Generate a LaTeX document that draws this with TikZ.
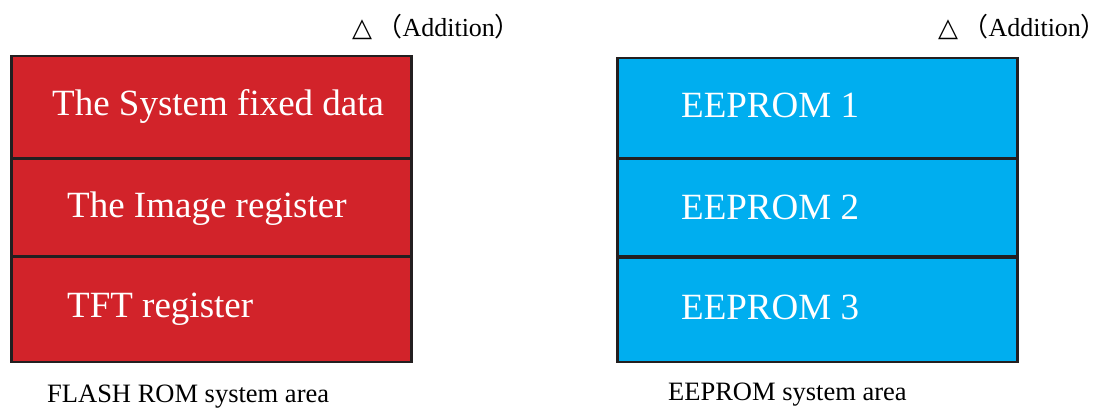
\documentclass[tikz,border=0pt]{standalone}
\usepackage{fontspec}
\setmainfont{Liberation Serif}
\newfontfamily\cjkfont{Noto Sans CJK SC}
\newfontfamily\symfont{DejaVu Sans}
\usepackage{xcolor}
\usetikzlibrary{positioning, calc}
\definecolor{flashred}{HTML}{D2232A}
\definecolor{eepblue}{HTML}{00AEEF}
\definecolor{edgegray}{HTML}{231F20}
\tikzset{
  membox/.style={
    draw=edgegray, line width=2.5pt, minimum width=400pt,
    inner sep=0pt, anchor=north west
  },
  memtext/.style={
    anchor=west, text=white, inner sep=0pt,
    font=\fontsize{37}{44}\selectfont
  },
  arealabel/.style={
    anchor=west, inner sep=0pt, font=\fontsize{26.5}{30}\selectfont
  },
  addlabel/.style={
    anchor=west, inner sep=0pt, font=\fontsize{26}{30}\selectfont
  },
}
\newcommand{\addmark}{{\symfont\char"25B3}\,{\cjkfont （}Addition\makebox[0.6em][l]{\cjkfont ）}}

\begin{document}
\begin{tikzpicture}[x=1pt, y=-1pt]
  \useasboundingbox (0,0) rectangle (1106,411);

  % FLASH ROM area
  \node[membox, fill=flashred, minimum height=102pt] (fl1) at (10,55) {};
  \node[membox, fill=flashred, minimum height=97pt] (fl2) at (10,158) {};
  \node[membox, fill=flashred, minimum height=105pt] (fl3) at (10,256) {};
  \node[memtext] (fl1t) at ($(fl1.west)+(42,-1)$) {The System fixed data};
  \node[memtext] (fl2t) at ($(fl2.west)+(57,1)$) {The Image register};
  \node[memtext] (fl3t) at ($(fl3.west)+(57,-1)$) {TFT register};

  % EEPROM area
  \node[membox, fill=eepblue, minimum height=100pt] (ep1) at (616,57) {};
  \node[membox, fill=eepblue, minimum height=97pt] (ep2) at (616,158) {};
  \node[membox, fill=eepblue, minimum height=104pt] (ep3) at (616,257) {};
  \node[memtext] (ep1t) at ($(ep1.west)+(65,-3)$) {EEPROM 1};
  \node[memtext] (ep2t) at ($(ep2.west)+(65,0)$) {EEPROM 2};
  \node[memtext] (ep3t) at ($(ep3.west)+(65,-3)$) {EEPROM 3};

  % Annotations
  \node[addlabel] (fladd) at (352,27) {\addmark};
  \node[addlabel] (epadd) at (938,27) {\addmark};
  \node[arealabel] (flname) at (47,397) {FLASH ROM system area};
  \node[arealabel] (epname) at (668,395) {EEPROM system area};
\end{tikzpicture}
\end{document}
